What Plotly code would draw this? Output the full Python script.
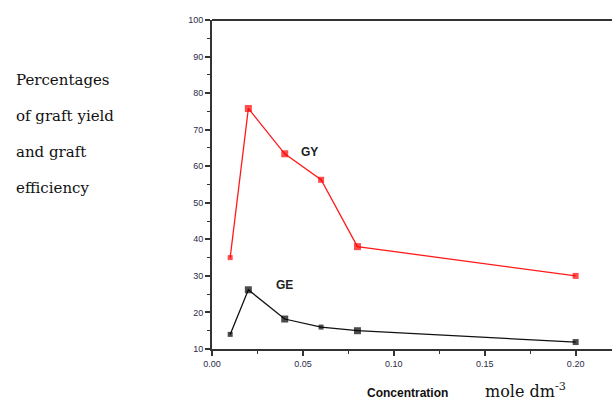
import plotly.graph_objects as go

# Monomer concentration (mole dm^-3)
concentration = [0.01, 0.02, 0.04, 0.06, 0.08, 0.20]
# Graft yield (%) and graft efficiency (%)
graft_yield = [35.0, 75.8, 63.4, 56.3, 38.0, 30.0]
graft_efficiency = [14.0, 26.2, 18.2, 16.0, 15.0, 11.9]

y_title_lines = ["Percentages", "of graft yield", "and graft", "efficiency"]
tick_vals_x = [0.00, 0.05, 0.10, 0.15, 0.20]
tick_text_x = ["0.00", "0.05", "0.10", "0.15", "0.20"]
tick_vals_y = [10, 20, 30, 40, 50, 60, 70, 80, 90, 100]

fig = go.Figure()
fig.add_trace(go.Scatter(
    x=concentration, y=graft_yield, mode="lines+markers", name="GY",
    line=dict(color="#ff1a1a", width=1.3),
    marker=dict(symbol="square", color="#ff0000", size=[5, 7, 7, 6, 7, 6],
                line=dict(width=0)),
))
fig.add_trace(go.Scatter(
    x=concentration, y=graft_efficiency, mode="lines+markers", name="GE",
    line=dict(color="#111111", width=1.3),
    marker=dict(symbol="square", color="#000000", size=[5, 7, 7, 5, 7, 6],
                line=dict(width=0)),
))

tick_font = dict(family="Arial", size=9, color="#2b2b48")
fig.update_xaxes(
    range=[0, 0.22], tickvals=tick_vals_x, ticktext=tick_text_x,
    showgrid=False, zeroline=False, showline=True, linecolor="#333333", linewidth=2,
    ticks="outside", ticklen=5, tickwidth=1.5, tickcolor="#333333",
    minor=dict(ticks="outside", ticklen=3, tickwidth=1.2, tickcolor="#333333", dtick=0.025),
    tickfont=tick_font, mirror=False,
)
fig.update_yaxes(
    range=[10, 100], tickvals=tick_vals_y,
    showgrid=False, zeroline=False, showline=True, linecolor="#333333", linewidth=2,
    ticks="outside", ticklen=5, tickwidth=1.5, tickcolor="#333333",
    minor=dict(ticks="outside", ticklen=3, tickwidth=1.2, tickcolor="#333333", dtick=5),
    tickfont=tick_font,
)

# top frame line
fig.add_shape(type="line", xref="paper", yref="paper", x0=0, x1=1, y0=1, y1=1,
              line=dict(color="#333333", width=2))

annotations = [
    dict(x=0.048, y=64, xref="x", yref="y", text="<b>GY</b>", showarrow=False,
         font=dict(family="Arial", size=12, color="#222222"), xanchor="left"),
    dict(x=0.034, y=27.5, xref="x", yref="y", text="<b>GE</b>", showarrow=False,
         font=dict(family="Arial", size=12, color="#222222"), xanchor="left"),
    dict(x=365, y=393, xref="paper", yref="paper", text="<b>Concentration</b>", showarrow=False,
         font=dict(family="Arial", size=12, color="#111111"), xanchor="left"),
    dict(x=483, y=390, xref="paper", yref="paper", text="mole dm<sup>-3</sup>", showarrow=False,
         font=dict(family="DejaVu Serif", size=16, color="#111111"), xanchor="left"),
]
# convert pixel positions of the bottom labels into paper coordinates
L, R, T, B = 212, 0, 20, 51
pw, ph = 612 - L - R, 400 - T - B
for a in annotations:
    if a["xref"] == "paper":
        a["x"] = (a["x"] - L) / pw
        a["y"] = (400 - B - a["y"]) / ph
        a["yanchor"] = "middle"

for i, line in enumerate(y_title_lines):
    ypix = 80 + i * 36
    annotations.append(dict(
        x=(14 - L) / pw, y=(400 - B - ypix) / ph, xref="paper", yref="paper",
        text=line, showarrow=False, xanchor="left", yanchor="middle",
        font=dict(family="DejaVu Serif", size=15, color="#111111"),
    ))

fig.update_layout(
    width=612, height=400,
    margin=dict(l=L, r=R, t=T, b=B),
    paper_bgcolor="white", plot_bgcolor="white",
    showlegend=False, annotations=annotations,
)

fig.write_html("out.html")
